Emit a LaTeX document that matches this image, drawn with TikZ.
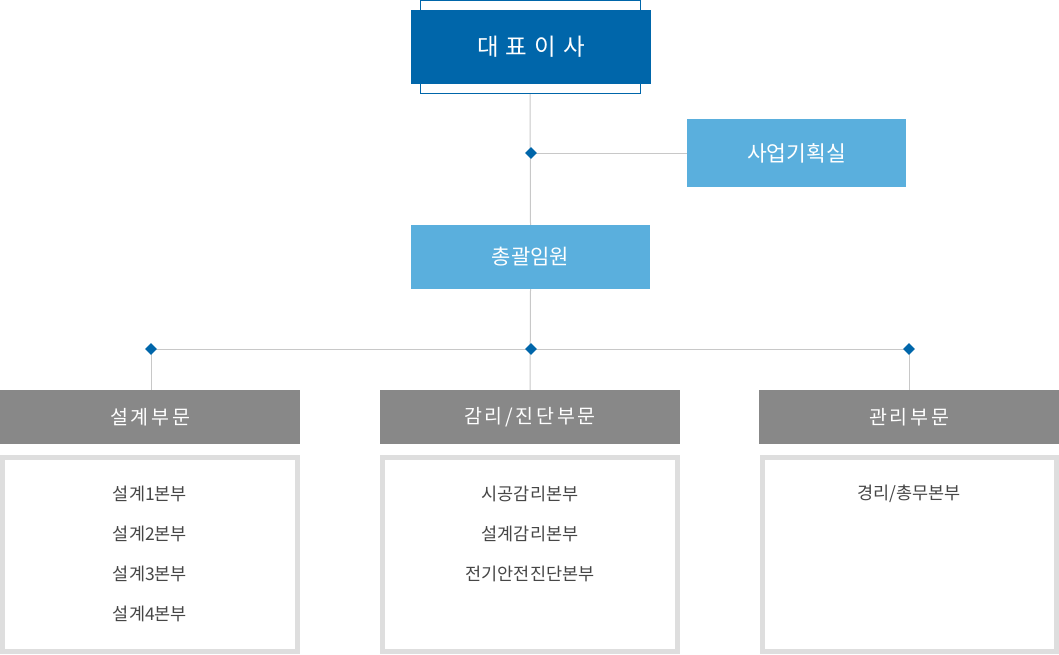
\documentclass[tikz,border=0pt]{standalone}
\usepackage{fontspec}
\setmainfont{Noto Sans CJK KR}
\newfontfamily\wideko[LetterSpace=30]{Noto Sans CJK KR}
\newfontfamily\spacedko[LetterSpace=14]{Noto Sans CJK KR}
\usetikzlibrary{shapes.geometric,positioning}
\definecolor{ceoblue}{RGB}{0,102,170}
\definecolor{skyblue}{RGB}{90,175,221}
\definecolor{headgray}{RGB}{136,136,136}
\definecolor{linegray}{RGB}{200,200,200}
\definecolor{framegray}{RGB}{222,222,222}
\definecolor{itemgray}{RGB}{70,70,70}
\begin{document}
\begin{tikzpicture}[x=1pt, y=-1pt,
		link/.style={draw=linegray, line width=1pt},
		knot/.style={diamond, fill=ceoblue, inner sep=0pt, minimum size=12pt},
		bluebox/.style={fill=skyblue, text=white, inner sep=0pt},
		headbox/.style={fill=headgray, text=white, inner sep=0pt, minimum width=300pt, minimum height=54pt, font=\spacedko\fontsize{19.5}{22}\selectfont},
		listbox/.style={draw=framegray, line width=5pt, fill=white, inner sep=0pt, minimum height=194pt},
		item/.style={text=itemgray, inner sep=0pt, font=\fontsize{17.5}{20}\selectfont}]
		\useasboundingbox (0,0) rectangle (1059,654);
		\node[draw=ceoblue, line width=1pt, inner sep=0pt, minimum width=220pt, minimum height=93pt] (ceoframe) at (530,47) {};
		\node[fill=ceoblue, text=white, inner sep=0pt, minimum width=240pt, minimum height=74pt, font=\wideko\fontsize{23.5}{26}\selectfont] (ceo) at (531,47) {대표이사};
		\node[bluebox, minimum width=219pt, minimum height=68pt, font=\fontsize{21.5}{24}\selectfont] (plan) at (796.5,153) {사업기획실};
		\node[bluebox, minimum width=239pt, minimum height=64pt, font=\fontsize{21}{24}\selectfont] (chief) at (530.5,257) {총괄임원};
		\coordinate (j0) at (531,153);
		\coordinate (jl) at (151,349);
		\coordinate (jm) at (531,349);
		\coordinate (jr) at (909,349);
		\node[headbox] (design) at (150,417) {설계부문};
		\node[headbox] (audit) at (530,417) {감리/진단부문};
		\node[headbox] (admin) at (909,417) {관리부문};
		\draw[link] (ceoframe.south) -- (chief.north);
		\draw[link] (j0) -- (plan.west);
		\draw[link] (chief.south) -- (audit.north);
		\draw[link] (jl) -- (jr);
		\draw[link] (jl) -- (jl |- design.north);
		\draw[link] (jr) -- (jr |- admin.north);
		\node[knot] (k0) at (j0) {};
		\node[knot] (kl) at (jl) {};
		\node[knot] (km) at (jm) {};
		\node[knot] (kr) at (jr) {};
		\node[listbox, minimum width=295pt] (designlist) at (150,554.5) {};
		\node[listbox, minimum width=295pt] (auditlist) at (530,554.5) {};
		\node[listbox, minimum width=294pt] (adminlist) at (909.5,554.5) {};
		\foreach \n [count=\i] in {1,2,3,4}
			\node[item] (dep\i) at (150,454+40*\i) {설계\n{}본부};
		\foreach \t [count=\i] in {시공감리본부,설계감리본부,전기안전진단본부}
			\node[item] (aud\i) at (530,454+40*\i) {\t};
		\node[item] (adm1) at (909,494) {경리/총무본부};
	\end{tikzpicture}
\end{document}
